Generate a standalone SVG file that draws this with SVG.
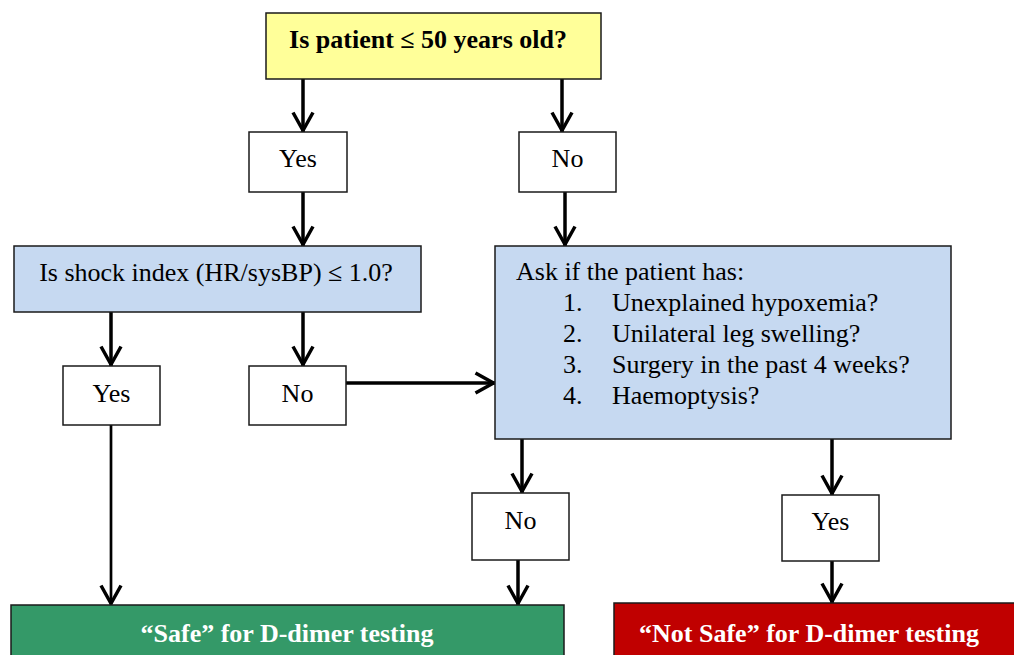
<svg xmlns="http://www.w3.org/2000/svg" width="1014" height="655" viewBox="0 0 1014 655">
  <style>
    .box { stroke: #1a1a1a; stroke-width: 1.5; }
    .plain { fill: #ffffff; }
    .t { font-family: "Liberation Serif", "Times New Roman", serif; font-size: 26px; fill: #000; }
    .b { font-weight: bold; }
    .w { fill: #ffffff; }
    .c { text-anchor: middle; }
    .conn { stroke: #000; stroke-width: 3.5; fill: none; marker-end: url(#v); }
  </style>
  <defs>
    <marker id="v" markerUnits="userSpaceOnUse" markerWidth="40" markerHeight="40" refX="1.5" refY="0" orient="auto" overflow="visible">
      <path d="M-18,-10 L0,0 L-18,10" fill="none" stroke="#000" stroke-width="3.5"/>
    </marker>
  </defs>
  <rect width="1014" height="655" fill="#ffffff"/>

  <g id="connectors">
    <line class="conn" x1="303" y1="79" x2="303" y2="132"/>
    <line class="conn" x1="562" y1="79" x2="562" y2="132"/>
    <line class="conn" x1="303" y1="192" x2="303" y2="246"/>
    <line class="conn" x1="565" y1="192" x2="565" y2="246"/>
    <line class="conn" x1="111" y1="312" x2="111" y2="366"/>
    <line class="conn" x1="303" y1="312" x2="303" y2="366"/>
    <line class="conn" x1="346" y1="383" x2="495" y2="383"/>
    <line class="conn" x1="111" y1="425" x2="111" y2="605" style="stroke-width:2.7"/>
    <line class="conn" x1="522" y1="439" x2="522" y2="493"/>
    <line class="conn" x1="832" y1="439" x2="832" y2="495"/>
    <line class="conn" x1="518" y1="560" x2="518" y2="605"/>
    <line class="conn" x1="832" y1="561" x2="832" y2="603"/>
  </g>

  <g id="q-age">
    <rect class="box" x="266" y="13" width="335" height="66" fill="#ffff99"/>
    <text class="t b c" x="428" y="48">Is patient ≤ 50 years old?</text>
  </g>
  <g id="age-yes">
    <rect class="box plain" x="249" y="132" width="98" height="60"/>
    <text class="t c" x="298" y="167">Yes</text>
  </g>
  <g id="age-no">
    <rect class="box plain" x="519" y="132" width="97" height="60"/>
    <text class="t c" x="567.5" y="167">No</text>
  </g>
  <g id="q-shock">
    <rect class="box" x="14" y="246" width="407" height="66" fill="#c6d9f1"/>
    <text class="t c" x="216" y="281">Is shock index (HR/sysBP) ≤ 1.0?</text>
  </g>
  <g id="shock-yes">
    <rect class="box plain" x="63" y="366" width="97" height="59"/>
    <text class="t c" x="111.5" y="402">Yes</text>
  </g>
  <g id="shock-no">
    <rect class="box plain" x="249" y="366" width="97" height="59"/>
    <text class="t c" x="297.5" y="402">No</text>
  </g>
  <g id="q-ask">
    <rect class="box" x="495" y="246" width="456" height="193" fill="#c6d9f1"/>
    <text class="t" x="516" y="280">Ask if the patient has:</text>
    <text class="t" x="563" y="311">1.</text>
    <text class="t" x="612" y="311">Unexplained hypoxemia?</text>
    <text class="t" x="563" y="342">2.</text>
    <text class="t" x="612" y="342">Unilateral leg swelling?</text>
    <text class="t" x="563" y="373">3.</text>
    <text class="t" x="612" y="373">Surgery in the past 4 weeks?</text>
    <text class="t" x="563" y="404">4.</text>
    <text class="t" x="612" y="404">Haemoptysis?</text>
  </g>
  <g id="ask-no">
    <rect class="box plain" x="472" y="493" width="97" height="67"/>
    <text class="t c" x="520.5" y="529">No</text>
  </g>
  <g id="ask-yes">
    <rect class="box plain" x="782" y="495" width="97" height="66"/>
    <text class="t c" x="830.5" y="530">Yes</text>
  </g>
  <g id="safe">
    <rect class="box" x="11" y="605" width="553" height="60" fill="#349968"/>
    <text class="t b w c" x="287" y="642">“Safe” for D-dimer testing</text>
  </g>
  <g id="not-safe">
    <rect class="box" x="614" y="603" width="410" height="62" fill="#c00000"/>
    <text class="t b w c" x="809" y="642">“Not Safe” for D-dimer testing</text>
  </g>
</svg>
